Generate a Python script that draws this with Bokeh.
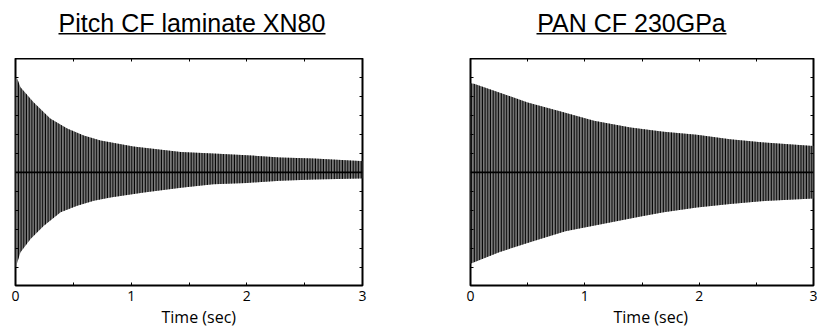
from bokeh.plotting import figure
from bokeh.layouts import row, column
from bokeh.models import (FixedTicker, LinearAxis, Range1d, Span, Label, Title,
                          BoxAnnotation, CustomLabelingPolicy)
from bokeh.embed import file_html
from bokeh.resources import INLINE

# ---- data (envelope of the free-decay signal) ----
titles = ["Pitch CF laminate XN80", "PAN CF 230GPa"]
x_label = "Time  (sec)"
x_ticks = [0, 1, 2, 3]
x_minor = [0.5, 1.5, 2.5]
y_ticks = [-5, -4, -3, -2, -1, 1, 2, 3, 4, 5]

# Pitch CF laminate XN80
t_up_pitch = [0.0, 0.015, 0.043, 0.156, 0.30, 0.447, 0.59, 0.735, 1.02, 1.43, 1.71, 2.0, 2.29, 2.58, 2.98, 3.0]
up_pitch = [4.95, 4.93, 4.49, 3.70, 2.84, 2.32, 1.95, 1.68, 1.37, 1.08, 1.00, 0.91, 0.79, 0.74, 0.61, 0.61]
t_lo_pitch = [0.0, 0.015, 0.043, 0.13, 0.245, 0.39, 0.533, 0.677, 0.82, 1.11, 1.43, 1.71, 2.0, 2.29, 2.58, 2.98, 3.0]
lo_pitch = [-5.0, -4.74, -4.20, -3.50, -2.80, -2.10, -1.75, -1.49, -1.32, -1.05, -0.80, -0.62, -0.55, -0.44, -0.37, -0.32, -0.32]

# PAN CF 230GPa
t_up_pan = [0.0, 0.03, 0.2, 0.5, 0.79, 1.08, 1.4, 1.69, 1.98, 2.27, 2.57, 3.0]
up_pan = [4.70, 4.67, 4.32, 3.68, 3.21, 2.72, 2.37, 2.14, 1.98, 1.75, 1.58, 1.40]
t_lo_pan = [0.0, 0.015, 0.25, 0.54, 0.83, 1.12, 1.5, 1.69, 1.98, 2.27, 2.57, 3.0]
lo_pan = [-4.80, -4.77, -4.20, -3.63, -3.10, -2.75, -2.30, -2.10, -1.84, -1.66, -1.50, -1.37]

LABEL_FONT = "Open Sans"
TITLE_FONT = "Liberation Sans"


def make_title(title, fig_w, cx, ul_left, ul_right):
    t = figure(width=fig_w, height=58, min_border=0,
               x_range=Range1d(0, fig_w), y_range=Range1d(0, 58),
               x_axis_location=None, y_axis_location=None,
               toolbar_location=None, output_backend="svg")
    t.grid.visible = False
    t.outline_line_color = None
    t.add_layout(Label(x=cx, y=36, x_units="screen", y_units="screen",
                       text=title, text_font=TITLE_FONT, text_font_size="25px",
                       text_align="center", text_baseline="alphabetic",
                       text_color="black"))
    t.add_layout(BoxAnnotation(left=ul_left, right=ul_right, bottom=24, top=25.5,
                               left_units="screen", right_units="screen",
                               bottom_units="screen", top_units="screen",
                               fill_color="black", fill_alpha=1.0, line_color=None))
    return t


def make_panel(t_up, up, t_lo, lo, border_left, frame_w, border_right, label_offset):
    p = figure(frame_width=frame_w, frame_height=227,
               min_border_left=border_left, min_border_right=border_right,
               min_border_top=0, min_border_bottom=0,
               x_range=Range1d(0, 3), y_range=Range1d(-5.95, 6.0),
               x_axis_location=None, y_axis_location=None,
               toolbar_location=None, output_backend="svg")
    p.grid.visible = False
    p.outline_line_color = "black"
    p.outline_line_width = 2

    style = dict(fill_color="#808080", hatch_pattern="vertical_line",
                 hatch_color="black", hatch_scale=2.7, hatch_weight=1.5)
    p.varea(x=t_up, y1=[0] * len(t_up), y2=up, **style)
    p.varea(x=t_lo, y1=lo, y2=[0] * len(t_lo), **style)
    p.add_layout(Span(location=0, dimension="width", line_color="black", line_width=1.8))

    xb = LinearAxis(ticker=FixedTicker(ticks=x_ticks, minor_ticks=x_minor))
    xt = LinearAxis(ticker=FixedTicker(ticks=x_ticks, minor_ticks=x_minor))
    yl = LinearAxis(ticker=FixedTicker(ticks=y_ticks))
    yr = LinearAxis(ticker=FixedTicker(ticks=y_ticks))
    for ax in (xb, xt, yl, yr):
        ax.axis_line_color = None
        ax.major_tick_in = 3
        ax.major_tick_out = 0
        ax.minor_tick_in = 3
        ax.minor_tick_out = 0
        ax.minor_tick_line_color = "black"
        ax.major_tick_line_color = "black"
        ax.major_tick_line_width = 1
    for ax in (xt, yl, yr):
        ax.major_label_policy = CustomLabelingPolicy(code="return new Set()")
        ax.major_label_text_font_size = "0px"
        ax.major_label_standoff = 0
        ax.axis_label_standoff = 0
    xb.major_label_text_font = LABEL_FONT
    xb.major_label_text_font_size = "14px"
    xb.major_label_text_color = "black"
    xb.major_label_standoff = 5
    xb.axis_label_standoff = 0
    p.add_layout(xb, "below")
    p.add_layout(xt, "above")
    p.add_layout(yl, "left")
    p.add_layout(yr, "right")
    # x-axis caption, placed like the reference (slightly right of centre)
    p.add_layout(Title(text=x_label, align="left", offset=label_offset,
                       text_font=LABEL_FONT, text_font_size="16px",
                       text_font_style="normal", text_color="black",
                       standoff=0), "below")
    return p


p1 = make_panel(t_up_pitch, up_pitch, t_lo_pitch, lo_pitch, 15, 347, 48, 146)
p2 = make_panel(t_up_pan, up_pan, t_lo_pan, lo_pan, 60, 343, 4, 143)
# title positions are relative to the (aligned) frame left edge
t1 = make_title(titles[0], 410, 176.5, 43, 310)
t2 = make_title(titles[1], 407, 161, 66, 256)

layout = row(column(t1, p1, spacing=0), column(t2, p2, spacing=0), spacing=0)
open("out.html", "w").write(file_html(layout, INLINE))
